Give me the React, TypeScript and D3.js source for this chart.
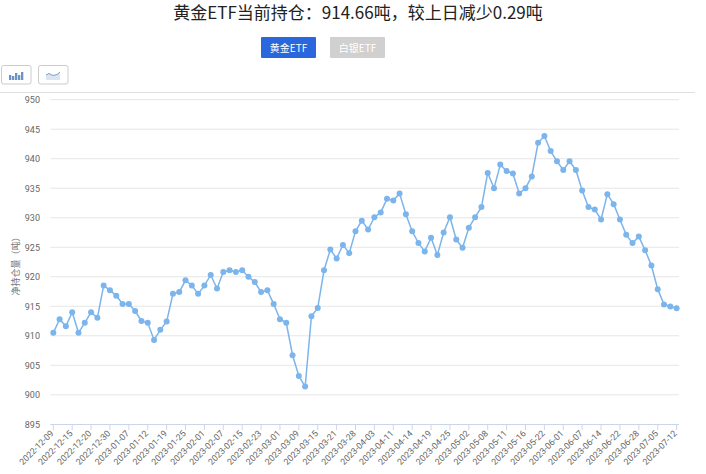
import { useEffect, useRef } from 'react';
import * as d3 from 'd3';

const holdings = [
  910.5, 912.8, 911.6, 914.0, 910.5, 912.2, 914.0, 913.05, 918.5, 917.7,
  916.8, 915.4, 915.4, 914.2, 912.5, 912.2, 909.3, 911.0, 912.4, 917.1,
  917.4, 919.4, 918.5, 917.1, 918.5, 920.3, 918.0, 920.8, 921.1, 920.8,
  921.1, 920.0, 919.1, 917.4, 917.7, 915.4, 912.8, 912.2, 906.7, 903.2,
  901.4, 913.3, 914.7, 921.1, 924.6, 923.1, 925.4, 924.0, 927.7, 929.5,
  928.0, 930.1, 930.9, 933.2, 932.9, 934.1, 930.6, 927.7, 925.7, 924.3,
  926.6, 923.7, 927.5, 930.1, 926.3, 924.9, 928.3, 930.1, 931.8, 937.6,
  935.0, 939.0, 937.9, 937.5, 934.1, 935.0, 937.0, 942.7, 943.85, 941.3,
  939.55, 938.1, 939.55, 938.1, 934.6, 931.8, 931.4, 929.7, 934.0, 932.3,
  929.7, 927.1, 925.7, 926.8, 924.5, 921.9, 917.9, 915.3, 914.95, 914.66,
];

// one label every third trading day
const xTickLabels = [
  '2022-12-09', '2022-12-15', '2022-12-20', '2022-12-30', '2023-01-07', '2023-01-12',
  '2023-01-19', '2023-01-25', '2023-02-01', '2023-02-07', '2023-02-15', '2023-02-23',
  '2023-03-01', '2023-03-09', '2023-03-15', '2023-03-21', '2023-03-28', '2023-04-03',
  '2023-04-11', '2023-04-14', '2023-04-19', '2023-04-25', '2023-05-02', '2023-05-08',
  '2023-05-11', '2023-05-16', '2023-05-22', '2023-06-01', '2023-06-07', '2023-06-14',
  '2023-06-22', '2023-06-28', '2023-07-05', '2023-07-12',
];

const yTicks = [895, 900, 905, 910, 915, 920, 925, 930, 935, 940, 945, 950];

const FONT = '"Noto Sans CJK SC", "Noto Sans", sans-serif';
const LATIN = 'Roboto, "Noto Sans", sans-serif';

export default function App() {
  const svgRef = useRef<SVGSVGElement>(null);

  useEffect(() => {
    if (!svgRef.current) return;
    const svg = d3.select(svgRef.current);
    svg.selectAll('*').remove();

    const left = 53.3;
    const right = 676.6;
    const axisEnd = 679;

    const x = d3
      .scalePoint<number>()
      .domain(d3.range(holdings.length))
      .range([left, right]);
    const y = d3.scaleLinear().domain([895, 950]).range([424.3, 99.7]);

    // 标题
    svg
      .append('text')
      .attr('x', 358)
      .attr('y', 19)
      .attr('text-anchor', 'middle')
      .style('font-family', FONT)
      .style('font-size', '17px')
      .style('fill', '#222')
      .text('黄金ETF当前持仓\uFF1A914.66吨\uFF0C较上日减少0.29吨');

    // 切换按钮
    const buttons = [
      { label: '黄金ETF', x: 261, fill: '#2a66dc' },
      { label: '白银ETF', x: 330, fill: '#d0d0d0' },
    ];
    buttons.forEach((b) => {
      svg
        .append('rect')
        .attr('x', b.x)
        .attr('y', 37)
        .attr('width', 55)
        .attr('height', 21)
        .attr('rx', 1)
        .attr('fill', b.fill);
      svg
        .append('text')
        .attr('x', b.x + 27.5)
        .attr('y', 51.5)
        .attr('text-anchor', 'middle')
        .style('font-family', FONT)
        .style('font-size', '10px')
        .style('fill', '#fff')
        .text(b.label);
    });

    // 图表类型图标
    [1, 38].forEach((bx) => {
      svg
        .append('rect')
        .attr('x', bx + 0.5)
        .attr('y', 65.5)
        .attr('width', 29.5)
        .attr('height', 18.5)
        .attr('rx', 2)
        .attr('fill', '#fff')
        .attr('stroke', '#ccc');
    });
    [
      [9, 5],
      [12, 4],
      [15, 7],
      [18, 5],
      [21, 8],
    ].forEach(([bx, h]) => {
      svg
        .append('rect')
        .attr('x', bx)
        .attr('y', 80 - h)
        .attr('width', 2.3)
        .attr('height', h)
        .attr('fill', '#6a93c6');
    });
    svg
      .append('path')
      .attr('d', 'M46 75 L49 73.5 L53 75.5 L57 74.5 L60 72 L60 80 L46 80 Z')
      .attr('fill', '#dbe5f2');
    svg
      .append('path')
      .attr('d', 'M46 75 L49 73.5 L53 75.5 L57 74.5 L60 72')
      .attr('fill', 'none')
      .attr('stroke', '#7f9fc9')
      .attr('stroke-width', 1);

    svg
      .append('line')
      .attr('x1', 0)
      .attr('x2', 695)
      .attr('y1', 92.5)
      .attr('y2', 92.5)
      .attr('stroke', '#e0e0e0');

    // 网格线
    svg
      .append('g')
      .selectAll('line')
      .data(yTicks.filter((t) => t !== 895))
      .enter()
      .append('line')
      .attr('x1', left - 3)
      .attr('x2', axisEnd)
      .attr('y1', (d) => y(d))
      .attr('y2', (d) => y(d))
      .attr('stroke', '#e6e6e6');

    // Y轴文字
    svg
      .append('g')
      .selectAll('text')
      .data(yTicks)
      .enter()
      .append('text')
      .attr('x', 40)
      .attr('y', (d) => y(d) + 3.5)
      .attr('text-anchor', 'end')
      .style('font-family', LATIN)
      .style('font-size', '9px')
      .style('fill', '#666')
      .text((d) => d);

    svg
      .append('text')
      .attr('transform', 'translate(19,264) rotate(-90)')
      .attr('text-anchor', 'middle')
      .style('font-family', FONT)
      .style('font-size', '9px')
      .style('fill', '#777')
      .text('净持仓量\uFF08吨\uFF09');

    // X轴
    const axisG = svg.append('g');
    axisG
      .append('line')
      .attr('x1', left - 3)
      .attr('x2', axisEnd)
      .attr('y1', 424.5)
      .attr('y2', 424.5)
      .attr('stroke', '#ccd6eb');

    xTickLabels.forEach((label, i) => {
      const tx = x(i * 3) as number;
      axisG
        .append('line')
        .attr('x1', tx)
        .attr('x2', tx)
        .attr('y1', 424)
        .attr('y2', 430)
        .attr('stroke', '#ccd6eb');
      axisG
        .append('text')
        .attr('transform', `translate(${tx + 1},${434}) rotate(-45)`)
        .attr('text-anchor', 'end')
        .style('font-family', LATIN)
        .style('font-size', '8.8px')
        .style('fill', '#666')
        .text(label);
    });

    // 折线
    const line = d3
      .line<number>()
      .x((_, i) => x(i) as number)
      .y((d) => y(d));

    svg
      .append('path')
      .datum(holdings)
      .attr('fill', 'none')
      .attr('stroke', '#7cb5ec')
      .attr('stroke-width', 1.5)
      .attr('d', line);

    svg
      .append('g')
      .selectAll('circle')
      .data(holdings)
      .enter()
      .append('circle')
      .attr('cx', (_, i) => x(i) as number)
      .attr('cy', (d) => y(d))
      .attr('r', 3)
      .attr('fill', '#7cb5ec');
  }, []);

  return (
    <svg
      ref={svgRef}
      width={706}
      height={474}
      style={{ position: 'absolute', left: 0, top: 0, background: '#fff' }}
    ></svg>
  );
}
